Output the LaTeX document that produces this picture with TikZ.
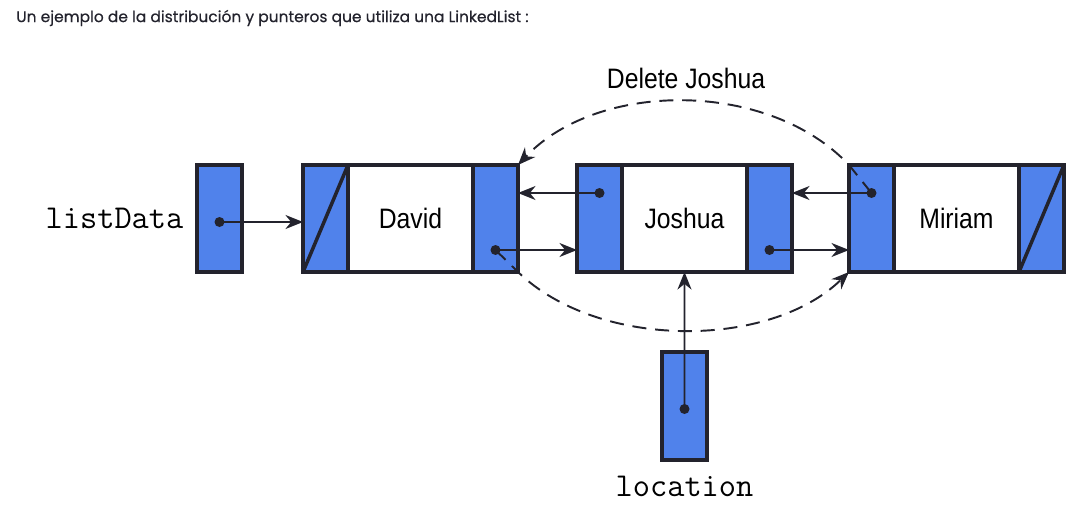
\documentclass[tikz,border=0pt]{standalone}
\usepackage{fontspec}
\setmainfont{Liberation Sans}
\newfontfamily\boxfont{Liberation Sans}[FakeStretch=0.88]
\newfontfamily\titlefont{Poppins}[FakeBold=0.5]
\usetikzlibrary{positioning,arrows.meta}
\definecolor{cellblue}{RGB}{80,130,235}
\definecolor{edge}{RGB}{35,35,45}

\tikzset{
  cell/.style={draw=edge, fill=cellblue, line width=2pt, minimum width=0.9cm, minimum height=2.14cm, inner sep=0pt, outer sep=0pt},
  datacell/.style={cell, fill=white, minimum width=2.5cm, font=\boxfont\fontsize{16}{18}\selectfont},
  dot/.style={circle, fill=edge, inner sep=0pt, minimum size=0.2cm},
  ptr/.style={line width=1.1pt, draw=edge, -{Stealth[length=10pt,width=8pt]}},
  jump/.style={ptr, dash pattern=on 8pt off 5pt},
  varname/.style={font=\ttfamily\fontsize{19}{21}\selectfont}
}

\begin{document}
\begin{tikzpicture}
\useasboundingbox (0,0) rectangle (21.78,10.18);
\node[anchor=west, text=edge, font=\titlefont\fontsize{8.8}{10}\selectfont] (title) at (0.2,9.82) {Un ejemplo de la distribución y punteros que utiliza una LinkedList :};

% head pointer
\node[cell] (head) at (4.39,5.81) {};
\node[varname, left=0.15cm of head] (headname) {listData};

% the three list nodes
\node[cell] (dL) at (6.51,5.81) {};
\node[datacell, right=0pt of dL] (dM) {David};
\node[cell, right=0pt of dM] (dR) {};
\node[cell, right=1.18cm of dR] (jL) {};
\node[datacell, right=0pt of jL] (jM) {Joshua};
\node[cell, right=0pt of jM] (jR) {};
\node[cell, right=1.14cm of jR] (mL) {};
\node[datacell, right=0pt of mL] (mM) {Miriam};
\node[cell, right=0pt of mM] (mR) {};
\draw[line width=2pt, edge] (dL.south west) -- (dL.north east);
\draw[line width=2pt, edge] (mR.south west) -- (mR.north east);

% location
\node[cell, minimum height=2.16cm] (loc) at (13.69,2.06) {};
\node[varname, below=0.2cm of loc] (locname) {location};

% dots
\node[dot] (headdot) at ([yshift=-0.07cm]head.center) {};
\node[dot] (dnext) at ([yshift=-0.63cm]dR.center) {};
\node[dot] (jprev) at ([yshift=0.51cm]jL.center) {};
\node[dot] (jnext) at ([yshift=-0.63cm]jR.center) {};
\node[dot] (mprev) at ([yshift=0.51cm]mL.center) {};
\node[dot] (locdot) at ([yshift=-0.06cm]loc.center) {};

% links
\draw[ptr] (headdot.center) -- (dL.west |- headdot);
\draw[ptr] (dnext.center) -- (jL.west |- dnext);
\draw[ptr] (jprev.center) -- (dR.east |- jprev);
\draw[ptr] (jnext.center) -- (mL.west |- jnext);
\draw[ptr] (mprev.center) -- (jR.east |- mprev);
\draw[ptr] (locdot.center) -- (jM.south);

% bypass
\draw[jump] (mprev.center) -- (mL.north west) .. controls +(-1.6,1.7) and +(1.6,1.7) .. (dR.north east);
\draw[jump] (dnext.center) -- (dR.south east) .. controls +(1.6,-1.55) and +(-1.6,-1.55) .. (mL.south west);
\node[font=\boxfont\fontsize{16}{18}\selectfont] (del) at (13.72,8.62) {Delete Joshua};
\end{tikzpicture}
\end{document}
